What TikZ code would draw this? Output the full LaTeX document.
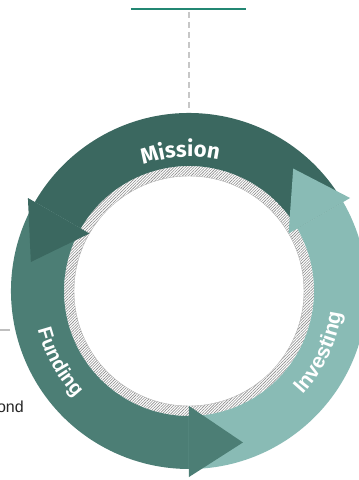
\documentclass[tikz,border=0pt]{standalone}
\usepackage{fontspec}
\setmainfont{Liberation Sans}
\newfontfamily\missionfont{Fira Sans}
\usetikzlibrary{decorations.text,patterns.meta}
\definecolor{cMission}{HTML}{3B6860}
\definecolor{cFunding}{HTML}{4C7E75}
\definecolor{cInvesting}{HTML}{89BBB5}
\definecolor{cTop}{HTML}{238773}
\newcommand{\ringbody}[3]{%
  \fill[#3] (#1:178) arc[start angle=#1,end angle=#2,radius=178]
    -- (#2:125) arc[start angle=#2,end angle=#1,radius=125] -- cycle;}
\newcommand{\ringhead}[2]{%
  \fill[#2] (#1:115) -- (#1:186) -- ({#1+19.6}:160.8) -- cycle;}
\tikzset{
  toprule/.style={draw=cTop,line width=2.5pt},
  guide/.style={draw=black!22,line width=2.2pt,dash pattern=on 6pt off 4pt},
  lbl/.style={decorate,decoration={text along path,text align=center,text color=white,#1}}
}
\begin{document}
\begin{tikzpicture}[x=1pt,y=1pt]
\useasboundingbox (-189,-189) rectangle (170,291);
% top rule and guide
\coordinate (tl) at (-58,282);
\coordinate (tr) at (57,282);
\coordinate (gtop) at (0,279);
\coordinate (gbot) at (0,181);
\draw[toprule] (tl) -- (tr);
\draw[guide] (gtop) -- (gbot);
% left stub
\coordinate (ls) at (-189,-39);
\coordinate (le) at (-179,-39);
\draw[black!25,line width=1.5pt] (ls) -- (le);
\node[anchor=base east,font=\fontsize{16}{16}\selectfont,text=black!85,inner sep=0pt] (ond) at (-165,-121) {ond};
% hatched ring
\fill[pattern={Lines[angle=45,distance=2pt,line width=0.6pt]},pattern color=black!45,even odd rule]
  (0,0) circle[radius=125] (0,0) circle[radius=115];
\draw[black!30,line width=0.4pt] (0,0) circle[radius=115];
% arrow bodies
\ringbody{30}{150}{cMission}
\ringbody{150}{270}{cFunding}
\ringbody{270}{390}{cInvesting}
% arrow heads
\ringhead{150}{cMission}
\ringhead{270}{cFunding}
\ringhead{390}{cInvesting}
% labels
\path[lbl={text={|\missionfont\bfseries\fontsize{22}{22}\selectfont|Mission}}]
  (123.6:134) arc[start angle=123.6,end angle=63.6,radius=134];
\path[lbl={text={|\bfseries\fontsize{20}{20}\selectfont|Funding}}]
  (178.7:156) arc[start angle=178.7,end angle=238.7,radius=156];
\path[lbl={text={|\bfseries\fontsize{21}{21}\selectfont|Investing}}]
  (304.7:154) arc[start angle=304.7,end angle=364.7,radius=154];
\end{tikzpicture}
\end{document}
